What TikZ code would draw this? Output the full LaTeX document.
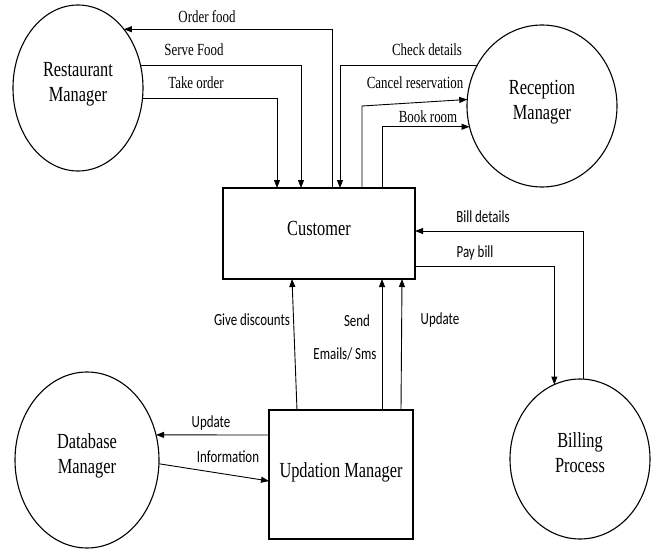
\documentclass[tikz,border=0pt]{standalone}
\usepackage{fontspec}
\setmainfont[FakeStretch=0.76]{Liberation Serif}
\newfontfamily\etisans[FakeStretch=0.76]{Carlito}
\usetikzlibrary{shapes.geometric,arrows.meta}
\tikzset{
    attore/.style={ellipse, draw, line width=1.1pt, inner sep=0pt, outer sep=0pt,
        align=center, font=\fontsize{21.5}{25}\selectfont, text depth=13pt},
    processo/.style={rectangle, draw, line width=1.1pt, inner sep=0pt, outer sep=0pt,
        font=\fontsize{21.5}{25}\selectfont},
    flusso/.style={line width=0.9pt, -{Triangle[length=8pt,width=6pt]}},
    etserif/.style={font=\fontsize{17}{19}\selectfont, inner sep=0pt},
    etsans/.style={font=\etisans\fontsize{17}{19}\selectfont, inner sep=0pt}
}
\begin{document}
\begin{tikzpicture}[x=1pt,y=-1pt]
        \useasboundingbox (0,0) rectangle (657,551);
        % Entita' esterne
        \node[attore, minimum width=130, minimum height=166] (rist) at (78,88) {Restaurant\\Manager};
        \node[attore, minimum width=150, minimum height=162] (recm) at (542,106) {Reception\\Manager};
        \node[attore, minimum width=144, minimum height=176] (dbm) at (87,460) {Database\\Manager};
        \node[attore, minimum width=140, minimum height=160] (bill) at (580,459) {Billing\\Process};
        % Processi
        \node[processo, minimum width=192, minimum height=91, text depth=11pt] (cust) at (319,233.5) {Customer};
        \node[processo, minimum width=144, minimum height=129, text depth=9pt] (upd) at (341,474.5) {Updation Manager};
        % Flussi ristorante
        \draw[flusso] ([xshift=13]cust.north) |- (rist.52);
        \draw[flusso] (rist.20) -| ([xshift=-18]cust.north);
        \draw[flusso] (rist.-9) -| ([xshift=-42]cust.north);
        \node[etserif] (lof) at (207,17) {Order food};
        \node[etserif] (lsf) at (194,50) {Serve Food};
        \node[etserif] (lto) at (196,83) {Take order};
        % Flussi reception
        \draw[flusso] (recm.148) -| ([xshift=21]cust.north);
        \draw[flusso] ([xshift=43]cust.north) -- ([xshift=43,yshift=82]cust.north) -- (recm.175);
        \draw[flusso] ([xshift=63]cust.north) |- (recm.196);
        \node[etserif] (lcd) at (427,50) {Check details};
        \node[etserif] (lcr) at (415,83) {Cancel reservation};
        \node[etserif] (lbr) at (428,117) {Book room};
        % Flussi fatturazione
        \draw[flusso] ([xshift=3]bill.north) |- ([yshift=2.5]cust.east);
        \draw[flusso] ([yshift=-32.5]cust.east) -| (bill.109);
        \node[etsans] (lbd) at (483,217) {Bill details};
        \node[etsans] (lpb) at (475,253) {Pay bill};
        % Flussi aggiornamento
        \draw[flusso] ([xshift=-44]upd.north) -- ([xshift=-27]cust.south);
        \draw[flusso] ([xshift=41]upd.north) -- ([xshift=63]cust.south);
        \draw[flusso] ([xshift=60]upd.north) -- ([xshift=83]cust.south);
        \node[etsans] (lgd) at (252,320) {Give discounts};
        \node[etsans] (lse) at (357,321) {Send};
        \node[etsans] (lem) at (345,354) {Emails/ Sms};
        \node[etsans] (lup) at (440,320) {Update};
        % Database
        \draw[flusso] ([yshift=39.5]upd.west) -- (dbm.20);
        \draw[flusso] (dbm.-3) -- ([yshift=-6.5]upd.west);
        \node[etsans] (ldu) at (211,423) {Update};
        \node[etsans] (ldi) at (228,457) {Information};
    \end{tikzpicture}
\end{document}
